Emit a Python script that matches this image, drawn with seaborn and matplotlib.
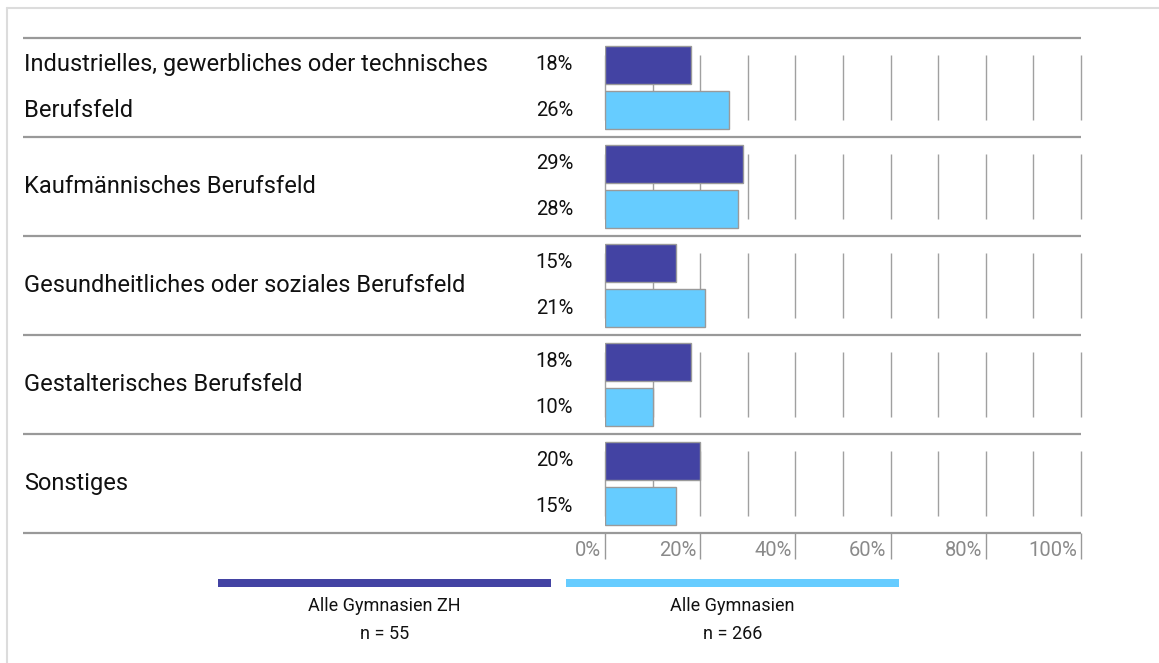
import numpy as np
import pandas as pd
import matplotlib
matplotlib.use("Agg")
import matplotlib.pyplot as plt
import matplotlib.transforms as mtransforms
from matplotlib.patches import Rectangle
from matplotlib.lines import Line2D
import seaborn as sns

# --- Daten ---
kategorien = [
    "Industrielles, gewerbliches oder technisches\nBerufsfeld",
    "Kaufmännisches Berufsfeld",
    "Gesundheitliches oder soziales Berufsfeld",
    "Gestalterisches Berufsfeld",
    "Sonstiges",
]
gruppen = ["Alle Gymnasien ZH", "Alle Gymnasien"]
n_werte = [55, 266]
werte_zh = [18, 29, 15, 18, 20]
werte_alle = [26, 28, 21, 10, 15]
xticks = [0, 20, 40, 60, 80, 100]

farben = {"Alle Gymnasien ZH": "#4343A3", "Alle Gymnasien": "#66CCFF"}

df = pd.DataFrame({
    "kategorie": kategorien * 2,
    "gruppe": [gruppen[0]] * len(kategorien) + [gruppen[1]] * len(kategorien),
    "wert": werte_zh + werte_alle,
})

# --- Stil ---
sns.set_theme(style="white")
plt.rcParams["font.family"] = ["Roboto", "DejaVu Sans"]

W, H = 1159, 663
fig = plt.figure(figsize=(W / 100, H / 100), dpi=100)


def fx(x):
    return x / W


def fy(y):
    return 1 - y / H


ax = fig.add_axes([fx(605), fy(533), fx(1081) - fx(605), fy(38) - fy(533)])

BREITE = 0.91
sns.barplot(data=df, y="kategorie", x="wert", hue="gruppe", order=kategorien,
            hue_order=gruppen, palette=farben, saturation=1, orient="h",
            width=BREITE, gap=0.155, edgecolor="#9a9a9a", linewidth=1,
            legend=False, ax=ax, zorder=3)

ax.set_xlim(0, 100)
ax.set_ylim(len(kategorien) - 0.5, -0.5)
for s in ax.spines.values():
    s.set_visible(False)
ax.set_xlabel("")
ax.set_ylabel("")
ax.set_yticks([])
ax.set_xticks(xticks)
ax.set_xticklabels([""] * len(xticks))
ax.tick_params(axis="x", direction="out", length=19, width=1, color="#999999",
               bottom=True)

# Gitterlinien pro Gruppe
for i in range(len(kategorien)):
    ax.vlines(np.arange(0, 101, 10), i - 0.333, i + 0.333, color="#a0a0a0",
              lw=1, zorder=1, clip_on=False)

# Trennlinien
x_links = (23 - 605) / 476 * 100
ax.hlines(np.arange(len(kategorien) + 1) - 0.5, x_links, 100, color="#999999",
          lw=1.6, clip_on=False, zorder=2)

# Achsenbeschriftungen
lab_tr = ax.get_xaxis_transform() + mtransforms.ScaledTranslation(-4 / 100, -18 / 100, fig.dpi_scale_trans)
for t in xticks:
    ax.text(t, 0, f"{t}%", transform=lab_tr, ha="right", va="center",
            fontsize=14.5, color="#8a8a8a")

# Kategorienamen und Prozentwerte
off = BREITE / 4
cat_tr = mtransforms.blended_transform_factory(fig.transFigure, ax.transData)
for i, kat in enumerate(kategorien):
    zeilen = kat.split("\n")
    if len(zeilen) == 2:
        ax.text(fx(24), i - off, zeilen[0], transform=cat_tr, ha="left",
                va="center", fontsize=17, color="#111111")
        ax.text(fx(24), i + off, zeilen[1], transform=cat_tr, ha="left",
                va="center", fontsize=17, color="#111111")
    else:
        ax.text(fx(24), i, kat, transform=cat_tr, ha="left", va="center",
                fontsize=17, color="#111111")
    for j, werte in enumerate([werte_zh, werte_alle]):
        y = i - off if j == 0 else i + off
        ax.annotate(f"{werte[i]}%", xy=(0, y), xytext=(-23, 0),
                    textcoords="offset points", ha="right", va="center",
                    fontsize=14.5, color="#111111")

# Legende
leg_x = [(218, 551), (566, 899)]
for (x0, x1), g, n in zip(leg_x, gruppen, n_werte):
    fig.add_artist(Rectangle((fx(x0), fy(587)), fx(x1) - fx(x0), fy(579) - fy(587),
                             transform=fig.transFigure, facecolor=farben[g],
                             edgecolor="none"))
    xm = fx((x0 + x1) / 2)
    fig.text(xm, fy(606), g, ha="center", va="center", fontsize=13, color="#111111")
    fig.text(xm, fy(634), f"n = {n}", ha="center", va="center", fontsize=13,
             color="#111111")

# Rahmen
fig.add_artist(Line2D([fx(7), 1], [fy(8), fy(8)], transform=fig.transFigure,
                      color="#dcdcdc", lw=1.5))
fig.add_artist(Line2D([fx(7), fx(7)], [fy(8), 0], transform=fig.transFigure,
                      color="#dcdcdc", lw=1.5))

fig.savefig("out.png", dpi=100)
